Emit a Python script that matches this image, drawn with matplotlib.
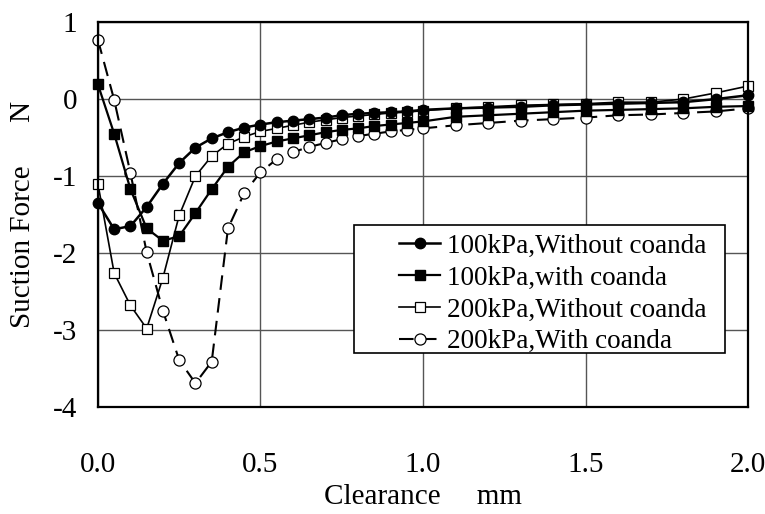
import numpy as np
import matplotlib.pyplot as plt
from matplotlib.patches import Rectangle

plt.rcParams['font.family'] = ['Liberation Serif', 'DejaVu Serif']

# Clearance (mm)
x_vals = [0.0, 0.05, 0.1, 0.15, 0.2, 0.25, 0.3, 0.35, 0.4, 0.45, 0.5,
          0.55, 0.6, 0.65, 0.7, 0.75, 0.8, 0.85, 0.9, 0.95, 1.0,
          1.1, 1.2, 1.3, 1.4, 1.5, 1.6, 1.7, 1.8, 1.9, 2.0]

# Suction force (N)
f_100_sin = [-1.35, -1.69, -1.65, -1.40, -1.10, -0.83, -0.63, -0.51, -0.43, -0.37, -0.33,
             -0.30, -0.28, -0.26, -0.24, -0.21, -0.19, -0.18, -0.17, -0.16, -0.14,
             -0.12, -0.11, -0.10, -0.08, -0.07, -0.06, -0.05, -0.04, 0.00, 0.05]
f_100_con = [0.19, -0.45, -1.17, -1.68, -1.84, -1.78, -1.48, -1.17, -0.88, -0.69, -0.61,
             -0.55, -0.51, -0.47, -0.43, -0.40, -0.38, -0.35, -0.33, -0.31, -0.29,
             -0.23, -0.21, -0.19, -0.17, -0.15, -0.14, -0.13, -0.12, -0.10, -0.09]
f_200_sin = [-1.10, -2.26, -2.68, -2.98, -2.32, -1.51, -1.00, -0.74, -0.58, -0.49, -0.42,
             -0.38, -0.34, -0.30, -0.27, -0.24, -0.22, -0.20, -0.18, -0.17, -0.15,
             -0.12, -0.10, -0.08, -0.07, -0.06, -0.04, -0.04, 0.00, 0.08, 0.17]
f_200_con = [0.77, -0.01, -0.96, -1.99, -2.75, -3.39, -3.69, -3.41, -1.68, -1.22, -0.95,
             -0.78, -0.69, -0.62, -0.57, -0.52, -0.48, -0.45, -0.42, -0.40, -0.38,
             -0.34, -0.31, -0.28, -0.26, -0.24, -0.21, -0.20, -0.18, -0.16, -0.12]

etiquetas = ["100kPa,Without coanda", "100kPa,with coanda",
             "200kPa,Without coanda", "200kPa,With coanda"]

fig = plt.figure(figsize=(7.65, 5.14), dpi=100)
ax = fig.add_axes([0.128, 0.208, 0.850, 0.749])

ax.plot(x_vals, f_100_sin, '-', color='black', lw=1.8, marker='o', ms=7.5,
        mfc='black', mec='black', label=etiquetas[0], clip_on=False, zorder=4)
ax.plot(x_vals, f_100_con, '-', color='black', lw=1.6, marker='s', ms=6.5,
        mfc='black', mec='black', label=etiquetas[1], clip_on=False, zorder=4)
ax.plot(x_vals, f_200_sin, '-', color='black', lw=1.2, marker='s', ms=6.5,
        mfc='white', mec='black', mew=0.9, label=etiquetas[2], clip_on=False, zorder=3)
ax.plot(x_vals, f_200_con, color='black', lw=1.5, ls=(0, (7, 4)), marker='o', ms=8,
        mfc='white', mec='black', mew=0.9, label=etiquetas[3], clip_on=False, zorder=3)

ax.set_xlim(0, 2.0)
ax.set_ylim(-4, 1)
ax.set_xticks([0.0, 0.5, 1.0, 1.5, 2.0])
ax.set_xticklabels(["0.0", "0.5", "1.0", "1.5", "2.0"])
ax.set_yticks([1, 0, -1, -2, -3, -4])
ax.set_yticklabels(["1", "0", "-1", "-2", "-3", "-4"])
ax.tick_params(axis='x', length=0, pad=32, labelsize=21)
ax.tick_params(axis='y', length=0, pad=15, labelsize=21)
ax.grid(True, color='#555555', lw=1.0)
ax.set_axisbelow(True)
for s in ax.spines.values():
    s.set_linewidth(1.6)
    s.set_zorder(5)

ax.set_xlabel("Clearance     mm", fontsize=21, labelpad=5)
ax.set_ylabel("Suction Force      N", fontsize=21, labelpad=12)

# cuadro de la leyenda
caja = Rectangle((0.394, 0.140), 0.571, 0.333, transform=ax.transAxes,
                 facecolor='white', edgecolor='black', lw=1.2, zorder=6)
ax.add_patch(caja)
ley = ax.legend(loc='upper left', bbox_to_anchor=(0.447, 0.478), frameon=False,
                fontsize=19.5, handlelength=1.5, handletextpad=0.25,
                labelspacing=0.25, borderaxespad=0)
ley.set_zorder(7)

plt.savefig("out.png", dpi=100)
